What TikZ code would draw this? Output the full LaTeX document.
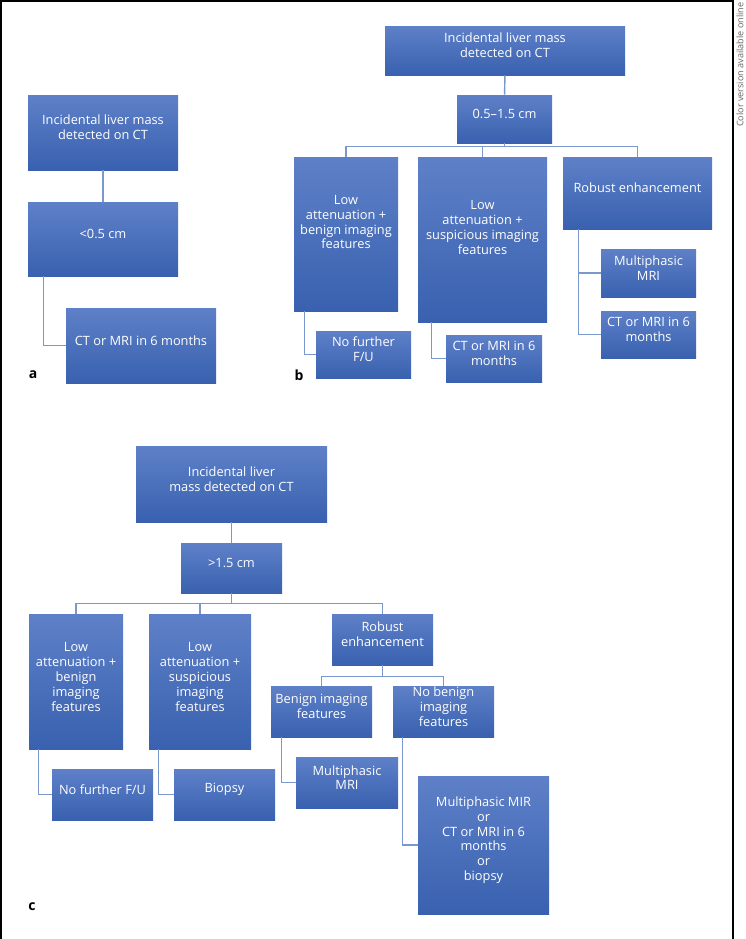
\documentclass[tikz,border=0pt]{standalone}
\usepackage{fontspec}
\setmainfont{Open Sans}
\usepackage{tikz}
\usetikzlibrary{fit}
\definecolor{boxtop}{RGB}{94,128,200}
\definecolor{boxbot}{RGB}{57,97,175}
\definecolor{linkblue}{RGB}{122,152,206}

\begin{document}
\begin{tikzpicture}[x=0.75pt,y=-0.75pt,
  box/.style={top color=boxtop,bottom color=boxbot,text=white,inner sep=0pt,align=center,font=\fontsize{9.6}{11.2}\selectfont},
  link/.style={draw=linkblue,line width=1.1pt},
  panel/.style={font=\bfseries\fontsize{10.5}{12}\selectfont}]
  \useasboundingbox (0,0) rectangle (746,939);
  \draw[line width=1.2pt] (1,939) -- (1,1) -- (733,1) -- (733,939);
  \node[rotate=90,anchor=east,text=black!60,inner sep=1pt,font=\fontsize{6.8}{8}\selectfont] (note) at (740,1) {Color version available online};

  % panel a
  \node[box,fit={(28,95) (178,170)}] (a1) {Incidental liver mass\\detected on CT};
  \node[box,fit={(28,202) (178,276)}] (a2) {<0.5 cm};
  \node[box,fit={(66,308) (216,383)}] (a3) {CT or MRI in 6 months};
  \draw[link] (a1) -- (a2);
  \draw[link] ([xshift=12pt]a2.south west) |- (a3.west);
  \node[panel] (la) at (33,375) {a};

  % panel b
  \node[box,fit={(385,26) (625,75)}] (b1) {Incidental liver mass\\detected on CT};
  \node[box,fit={(457,95) (552,143)}] (b2) {0.5--1.5 cm};
  \node[box,fit={(294,157) (398,311)}] (b3) {Low\\attenuation +\\benign imaging\\features\\\mbox{}};
  \node[box,fit={(418,157) (547,322)}] (b4) {Low\\attenuation +\\suspicious imaging\\features\\\mbox{}};
  \node[box,fit={(563,157) (712,229)}] (b5) {Robust enhancement};
  \node[box,fit={(601,249) (696,297)}] (b6) {Multiphasic\\MRI};
  \node[box,fit={(601,311) (696,358)}] (b7) {CT or MRI in 6\\months};
  \node[box,fit={(316,331) (411,378)}] (b8) {No further\\F/U};
  \node[box,fit={(446,335) (542,382)}] (b9) {CT or MRI in 6\\months};
  \draw[link] (b1) -- (b2);
  \draw[link] (b2.south) -- ++(0,3) coordinate (bbus);
  \draw[link] (b3.north) |- (bbus) -| (b5.north);
  \draw[link] (b4.north) -- (b4.north |- bbus);
  \draw[link] ([xshift=8.25pt]b3.south west) |- (b8.west);
  \draw[link] ([xshift=10.5pt]b4.south west) |- (b9.west);
  \draw[link] ([xshift=12pt]b5.south west) |- (b6.west);
  \draw[link] ([xshift=12pt]b5.south west) |- (b7.west);
  \node[panel] (lb) at (299,375) {b};

  % panel c
  \node[box,fit={(136,446) (327,522)}] (c1) {Incidental liver\\mass detected on CT};
  \node[box,fit={(181,543) (282,593)}] (c2) {>1.5 cm};
  \node[box,fit={(29,614) (123,749)}] (c3) {Low\\attenuation +\\benign\\imaging\\features};
  \node[box,fit={(149,614) (251,749)}] (c4) {Low\\attenuation +\\suspicious\\imaging\\features};
  \node[box,fit={(332,614) (433,665)}] (c5) {Robust\\enhancement};
  \node[box,fit={(271,686) (372,737)}] (c6) {Benign imaging\\features};
  \node[box,fit={(393,686) (494,737)}] (c7) {No benign\\imaging\\features};
  \node[box,fit={(296,757) (398,808)}] (c8) {Multiphasic\\MRI};
  \node[box,fit={(52,769) (153,820)}] (c9) {No further F/U};
  \node[box,fit={(174,769) (275,820)}] (c10) {Biopsy};
  \node[box,fit={(418,776) (549,914)}] (c11) {Multiphasic MIR\\or\\CT or MRI in 6\\months\\or\\biopsy};
  \draw[link] (c1) -- (c2);
  \draw[link] (c2.south) -- ++(0,10) coordinate (cbus);
  \draw[link] (c3.north) |- (cbus) -| (c5.north);
  \draw[link] (c4.north) -- (c4.north |- cbus);
  \draw[link] (c5.south) -- ++(0,11) coordinate (rbus);
  \draw[link] (c6.north) |- (rbus) -| (c7.north);
  \draw[link] ([xshift=7.5pt]c3.south west) |- (c9.west);
  \draw[link] ([xshift=7.5pt]c4.south west) |- (c10.west);
  \draw[link] ([xshift=8.25pt]c6.south west) |- (c8.west);
  \draw[link] ([xshift=7.5pt]c7.south west) |- (c11.west);
  \node[panel] (lc) at (32,907) {c};
\end{tikzpicture}
\end{document}
